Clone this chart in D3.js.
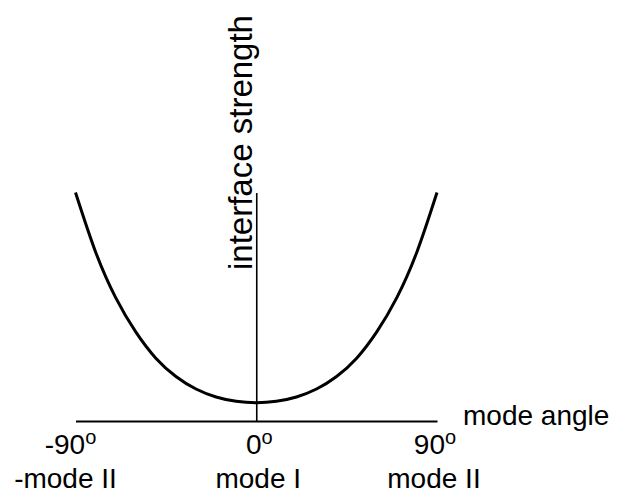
<!DOCTYPE html>
<html>
<head>
<meta charset="utf-8">
<script src="https://cdn.jsdelivr.net/npm/d3@7"></script>
<style>
  body { margin: 0; background: #fff; }
  svg { display: block; }
  text { font-family: "Liberation Sans", Arial, Helvetica, sans-serif; fill: #000; }
</style>
</head>
<body>
<div id="plot"></div>
<script>
const width = 623;
const height = 492;

// mode angle (degrees) and relative interface strength
const angles   = [-90, -80, -70, -60, -50, -40, -30, -20, -10, 0, 10, 20, 30, 40, 50, 60, 70, 80, 90];
const strength = [1.00, 0.74, 0.54, 0.39, 0.275, 0.195, 0.14, 0.105, 0.086, 0.08,
                  0.086, 0.105, 0.14, 0.195, 0.275, 0.39, 0.54, 0.74, 1.00];

const tickValues = [-90, 0, 90];
const tickLabels = ["-90", "0", "90"];
const modeLabels = ["-mode II", "mode I", "mode II"];

const svg = d3.select("#plot")
  .append("svg")
  .attr("width", width)
  .attr("height", height);

svg.append("rect").attr("width", width).attr("height", height).attr("fill", "#fff");

const x = d3.scaleLinear().domain([-90, 90]).range([75.5, 437]);
const y = d3.scaleLinear().domain([0, 1]).range([421, 192.5]);

// horizontal axis (no tick marks, only the line)
const xAxisG = svg.append("g")
  .attr("transform", `translate(0,${y(0)})`)
  .call(d3.axisBottom(x).tickValues(tickValues).tickSize(0).tickFormat(""));
xAxisG.select(".domain").attr("stroke", "#000").attr("stroke-width", 2.2);

// vertical axis through 0 degrees
const yAxisG = svg.append("g")
  .attr("transform", `translate(${x(0)},0)`)
  .call(d3.axisLeft(y).tickValues([]).tickSize(0));
yAxisG.select(".domain").attr("stroke", "#000").attr("stroke-width", 1.6);

// angle labels with superscript degree mark
const angleText = svg.selectAll(".angle-label")
  .data(tickValues)
  .enter().append("text")
  .attr("class", "angle-label")
  .attr("text-anchor", "middle")
  .attr("x", d => x(d))
  .attr("dx", (d, i) => i === 0 ? -5 : (i === 1 ? 3 : -2))
  .attr("y", y(0) + 33)
  .attr("font-size", 28);
angleText.append("tspan").text((d, i) => tickLabels[i]);
angleText.append("tspan")
  .attr("font-size", 20)
  .attr("dy", -10)
  .text("o");

svg.selectAll(".mode-label")
  .data(tickValues)
  .enter().append("text")
  .attr("class", "mode-label")
  .attr("text-anchor", "middle")
  .attr("x", d => x(d))
  .attr("dx", (d, i) => i === 0 ? -10 : (i === 1 ? 2 : -3))
  .attr("y", y(0) + 67)
  .attr("font-size", 28)
  .text((d, i) => modeLabels[i]);

// axis titles
svg.append("text")
  .attr("x", x(90) + 26)
  .attr("y", y(0) + 4)
  .attr("font-size", 28)
  .text("mode angle");

svg.append("text")
  .attr("transform", `translate(${x(0) - 4},270) rotate(-90)`)
  .attr("font-size", 33)
  .text("interface strength");

// strength curve
const line = d3.line()
  .x((d, i) => x(angles[i]))
  .y(d => y(d))
  .curve(d3.curveNatural);

svg.append("path")
  .datum(strength)
  .attr("fill", "none")
  .attr("stroke", "#000")
  .attr("stroke-width", 3)
  .attr("d", line);
</script>
</body>
</html>
